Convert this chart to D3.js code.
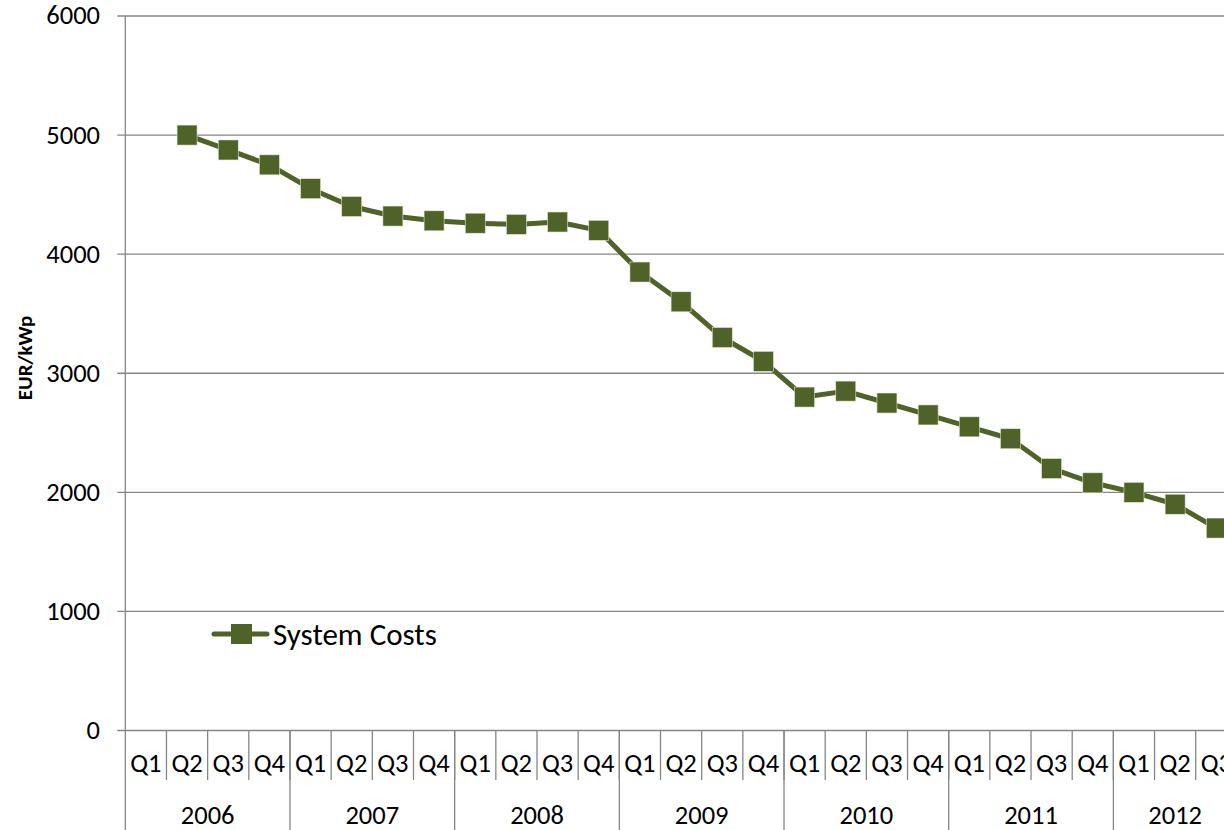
<!DOCTYPE html>
<html>
<head>
<meta charset="utf-8">
<script src="https://cdn.jsdelivr.net/npm/d3@7"></script>
<style>
  html, body { margin: 0; padding: 0; background: #fff; overflow: hidden; }
  svg { display: block; }
  text { font-family: Carlito, Lato, "Open Sans", sans-serif; fill: #000; }
</style>
</head>
<body>
<svg id="chart" width="1224" height="830"></svg>
<script>
// Quarterly PV system costs, EUR per kWp
const years = ["2006", "2007", "2008", "2009", "2010", "2011", "2012"];
const quartersPerYear = [4, 4, 4, 4, 4, 4, 3];
const quarterNames = ["Q1", "Q2", "Q3", "Q4"];
const systemCosts = [
  null, 5000, 4875, 4750,
  4550, 4400, 4320, 4280,
  4260, 4250, 4270, 4200,
  3850, 3600, 3300, 3100,
  2800, 2850, 2750, 2650,
  2550, 2450, 2200, 2080,
  2000, 1900, 1700
];
const yTicks = [0, 1000, 2000, 3000, 4000, 5000, 6000];
const seriesName = "System Costs";
const yTitle = "EUR/kWp";

(function () {
  // Build the flat category list (year + quarter)
  const categories = [];
  years.forEach((yr, i) => {
    for (let q = 0; q < quartersPerYear[i]; q++) {
      categories.push({ year: yr, quarter: quarterNames[q], key: yr + "-" + quarterNames[q] });
    }
  });
  const points = categories.map((c, i) => ({ key: c.key, value: systemCosts[i] }));

  const svg = d3.select("#chart");
  const color = "#4F6228";
  const gridColor = "#868686";
  const labelSize = 26.5;

  const plotLeft = 125.3, band = 41.17, plotTop = 16, plotBottom = 730.5;
  const x = d3.scaleBand()
    .domain(categories.map(c => c.key))
    .range([plotLeft, plotLeft + categories.length * band])
    .paddingInner(0).paddingOuter(0);
  const y = d3.scaleLinear().domain([0, 6000]).range([plotBottom, plotTop]);

  // Horizontal gridlines with short outward ticks
  svg.append("g").selectAll("line")
    .data(yTicks)
    .join("line")
    .attr("x1", plotLeft - 8)
    .attr("x2", 1224)
    .attr("y1", d => y(d))
    .attr("y2", d => y(d))
    .attr("stroke", gridColor)
    .attr("stroke-width", 1.3);

  // Y tick labels
  svg.append("g").selectAll("text")
    .data(yTicks)
    .join("text")
    .attr("x", 100)
    .attr("y", d => y(d))
    .attr("dy", "0.32em")
    .attr("text-anchor", "end")
    .attr("font-size", labelSize)
    .text(d => d);

  // Vertical axis line (continues down through the category rows)
  svg.append("line")
    .attr("x1", plotLeft).attr("x2", plotLeft)
    .attr("y1", plotTop).attr("y2", 830)
    .attr("stroke", gridColor).attr("stroke-width", 1.3);

  // Quarter separators
  svg.append("g").selectAll("line")
    .data(categories.slice(1))
    .join("line")
    .attr("x1", d => x(d.key)).attr("x2", d => x(d.key))
    .attr("y1", plotBottom).attr("y2", 780)
    .attr("stroke", gridColor).attr("stroke-width", 1.3);

  // Year separators
  const yearStarts = [];
  let idx = 0;
  years.forEach((yr, i) => {
    yearStarts.push({ year: yr, start: categories[idx].key, count: quartersPerYear[i] });
    idx += quartersPerYear[i];
  });
  svg.append("g").selectAll("line")
    .data(yearStarts.slice(1))
    .join("line")
    .attr("x1", d => x(d.start)).attr("x2", d => x(d.start))
    .attr("y1", plotBottom).attr("y2", 830)
    .attr("stroke", gridColor).attr("stroke-width", 1.3);

  // Quarter labels
  svg.append("g").selectAll("text")
    .data(categories)
    .join("text")
    .attr("x", d => x(d.key) + x.bandwidth() / 2)
    .attr("y", 772)
    .attr("text-anchor", "middle")
    .attr("font-size", labelSize)
    .text(d => d.quarter);

  // Year labels
  svg.append("g").selectAll("text")
    .data(yearStarts)
    .join("text")
    .attr("x", d => x(d.start) + d.count * x.bandwidth() / 2)
    .attr("y", 824)
    .attr("text-anchor", "middle")
    .attr("font-size", labelSize)
    .text(d => d.year);

  // Y axis title
  svg.append("text")
    .attr("transform", "translate(32,358) rotate(-90)")
    .attr("text-anchor", "middle")
    .attr("font-size", 21)
    .attr("font-weight", "bold")
    .text(yTitle);

  // Series line
  const valid = points.filter(p => p.value != null);
  const line = d3.line()
    .x(d => x(d.key) + x.bandwidth() / 2)
    .y(d => y(d.value));
  svg.append("path")
    .datum(valid)
    .attr("d", line)
    .attr("fill", "none")
    .attr("stroke", color)
    .attr("stroke-width", 5)
    .attr("stroke-linejoin", "round")
    .attr("stroke-linecap", "round");

  // Square markers
  const ms = 20;
  svg.append("g").selectAll("rect")
    .data(valid)
    .join("rect")
    .attr("x", d => x(d.key) + x.bandwidth() / 2 - ms / 2)
    .attr("y", d => y(d.value) - ms / 2)
    .attr("width", ms).attr("height", ms)
    .attr("fill", color)
    .attr("stroke", "#dfe6d2")
    .attr("stroke-width", 0.6);

  // Legend
  const lg = svg.append("g").attr("transform", "translate(0,634)");
  lg.append("line")
    .attr("x1", 214).attr("x2", 267)
    .attr("y1", 0).attr("y2", 0)
    .attr("stroke", color).attr("stroke-width", 5)
    .attr("stroke-linecap", "round");
  lg.append("rect")
    .attr("x", 231).attr("y", -10)
    .attr("width", 21).attr("height", 20)
    .attr("fill", color);
  lg.append("text")
    .attr("x", 273).attr("y", 11)
    .attr("font-size", 31)
    .text(seriesName);
})();
</script>
</body>
</html>
